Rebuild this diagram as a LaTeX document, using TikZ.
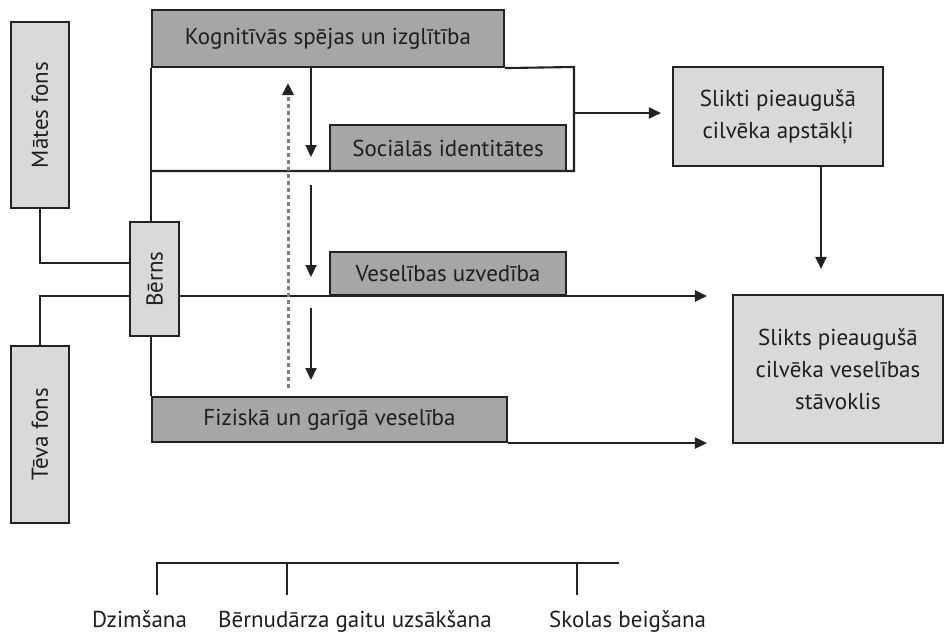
\documentclass[tikz,border=0pt]{standalone}
\usepackage{fontspec}
\setmainfont{PT Sans}
\usetikzlibrary{arrows.meta}
\definecolor{darkfill}{HTML}{A6A6A6}
\definecolor{lightfill}{HTML}{D9D9D9}
\definecolor{edge}{HTML}{222222}
\definecolor{txt}{HTML}{1E1E1E}
\definecolor{dashc}{HTML}{7E7E7E}
\begin{document}
\begin{tikzpicture}[x=1pt,y=-1pt,
  every node/.style={font=\fontsize{23}{32}\selectfont, text=txt},
  darkbox/.style={draw=edge, line width=2.1pt, fill=darkfill, inner sep=0pt},
  lightbox/.style={draw=edge, line width=2.1pt, fill=lightfill, inner sep=0pt, align=center},
  conn/.style={draw=edge, line width=2.1pt},
  arr/.style={conn, -{Triangle[length=12pt,width=11pt]}},
  dasharr/.style={draw=dashc, line width=3pt, dash pattern=on 4.5pt off 2.5pt, -{Triangle[length=12pt,width=11pt,fill=edge,color=edge]}}
]
\useasboundingbox (0,0) rectangle (945,634);
% boxes
\node[lightbox, minimum width=58pt, minimum height=186pt] (mates) at (40,115) {};
\node[rotate=90] (matesT) at (mates.center) {Mātes fons};
\node[lightbox, minimum width=58pt, minimum height=177pt] (teva) at (40,434.5) {};
\node[rotate=90] (tevaT) at (teva.center) {Tēva fons};
\node[lightbox, minimum width=49pt, minimum height=114pt] (bern) at (154.5,279) {};
\node[rotate=90] (bernT) at (bern.center) {Bērns};
\node[darkbox, minimum width=352pt, minimum height=57pt] (kog) at (328,38.5) {Kognitīvās spējas un izglītība};
\node[darkbox, minimum width=236pt, minimum height=46pt] (soc) at (448,148) {Sociālās identitātes};
\node[darkbox, minimum width=236pt, minimum height=43pt] (ves) at (448,273.5) {Veselības uzvedība};
\node[darkbox, minimum width=355pt, minimum height=45pt] (fiz) at (329.5,419.5) {Fiziskā un garīgā veselība};
\node[lightbox, minimum width=210pt, minimum height=99pt] (slikti) at (778,116.5) {Slikti pieaugušā\\cilvēka apstākļi};
\node[lightbox, minimum width=210pt, minimum height=148pt] (slikts) at (838,369) {Slikts pieaugušā\\cilvēka veselības\\stāvoklis};
% helper coordinates
\coordinate (wr1) at (574,67);
\coordinate (wr2) at (574,171);
\coordinate (wl) at (152,171);
\coordinate (wmid) at (574,113);
\coordinate (sd) at (821,0);
\coordinate (by) at (0,296);
\coordinate (my) at (0,263);
\coordinate (a1s) at (311,67);
\coordinate (a1e) at (311,157);
\coordinate (a2s) at (311,185);
\coordinate (a2e) at (311,277);
\coordinate (a3s) at (311,308);
\coordinate (a3e) at (311,380);
\coordinate (ds) at (288,388);
\coordinate (de) at (288,83);
% connectors
\draw[conn] (kog.south west) -- (kog.south west |- bern.north);
\draw[conn] (fiz.north west) -- (fiz.north west |- bern.south);
\draw[conn] (kog.south east) -- (wr1) -- (wr2) -- (wl);
\draw[arr, shorten >=11pt] (wmid) -- (wmid -| slikti.west);
\draw[arr, shorten >=25pt] (slikti.south -| sd) -- (slikts.north -| sd);
\draw[arr, shorten >=25pt] (bern.east |- by) -- (slikts.west |- by);
\draw[arr, shorten >=25pt] (fiz.south east) -- (fiz.south east -| slikts.west);
\draw[conn] (mates.south) -- (mates.south |- my) -- (bern.west |- my);
\draw[conn] (teva.north) -- (teva.north |- by) -- (bern.west |- by);
\draw[arr] (a1s) -- (a1e);
\draw[arr] (a2s) -- (a2e);
\draw[arr] (a3s) -- (a3e);
\draw[dasharr] (ds) -- (de);
% timeline
\coordinate (t0) at (157,563);
\coordinate (t1) at (287,563);
\coordinate (t2) at (577,563);
\coordinate (tend) at (619,563);
\draw[conn] (t0 |- 0,595) -- (t0) -- (tend);
\draw[conn] (t1) -- (t1 |- 0,595);
\draw[conn] (t2) -- (t2 |- 0,595);
\node[anchor=base west, inner sep=0pt] (l0) at (92,627) {Dzimšana};
\node[anchor=base west, inner sep=0pt] (l1) at (218,627) {Bērnudārza gaitu uzsākšana};
\node[anchor=base west, inner sep=0pt] (l2) at (549,627) {Skolas beigšana};
\end{tikzpicture}
\end{document}
